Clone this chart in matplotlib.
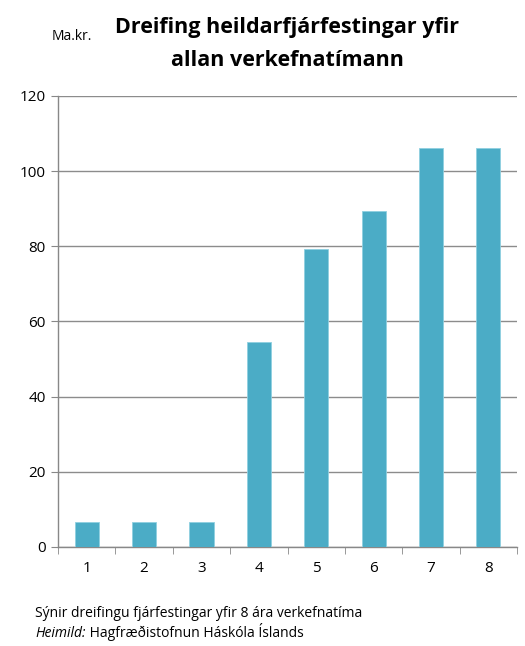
import matplotlib

matplotlib.use("Agg")

import matplotlib.pyplot as plt
import numpy as np

plt.rcParams["font.family"] = ["Open Sans", "DejaVu Sans"]

# Investment per year of the project period (billion ISK)
years = ["1", "2", "3", "4", "5", "6", "7", "8"]
investment = [6.6, 6.6, 6.6, 54.5, 79.3, 89.3, 106.2, 106.2]

fig = plt.figure(figsize=(5.25, 6.46), dpi=100)
ax = fig.add_axes([0.1105, 0.1533, 0.8743, 0.6981])

x = np.arange(len(years))
ax.bar(x, investment, width=0.42, color="#4BACC6", edgecolor="#8fd0e0", linewidth=0.6, zorder=3)

ax.set_xlim(-0.5, len(years) - 0.5)
ax.set_ylim(0, 120)
ax.set_yticks(np.arange(0, 121, 20))
ax.set_xticks(x)
ax.set_xticklabels(years)
ax.set_xticks(np.arange(-0.5, len(years), 1), minor=True)
ax.tick_params(axis="x", which="major", length=0, pad=10, labelsize=11)
ax.tick_params(axis="x", which="minor", length=5, color="#888888", direction="out")
ax.tick_params(axis="y", length=5, color="#888888", labelsize=11, pad=4)
ax.grid(axis="y", color="#8c8c8c", linewidth=1.0, zorder=0)

for side in ["top", "right"]:
    ax.spines[side].set_visible(False)
for side in ["left", "bottom"]:
    ax.spines[side].set_color("#888888")
    ax.spines[side].set_linewidth(1.0)

fig.text(0.547, 0.957, "Dreifing heildarfjárfestingar yfir",
         ha="center", va="center", fontsize=15.5, fontweight="bold")
fig.text(0.547, 0.907, "allan verkefnatímann",
         ha="center", va="center", fontsize=15.5, fontweight="bold")
fig.text(0.099, 0.943, "Ma.kr.", ha="left", va="center", fontsize=10)

fig.text(0.067, 0.051, "Sýnir dreifingu fjárfestingar yfir 8 ára verkefnatíma",
         ha="left", va="center", fontsize=10)
# source line: italic label followed by upright text on the same line
src = fig.text(0.067, 0.019, "Heimild:", ha="left", va="center",
               fontsize=10, fontstyle="italic")
ax.annotate(" Hagfræðistofnun Háskóla Íslands", xy=(1, 0), xycoords=src,
            ha="left", va="bottom", fontsize=10, annotation_clip=False)

fig.savefig("out.png", dpi=100)
